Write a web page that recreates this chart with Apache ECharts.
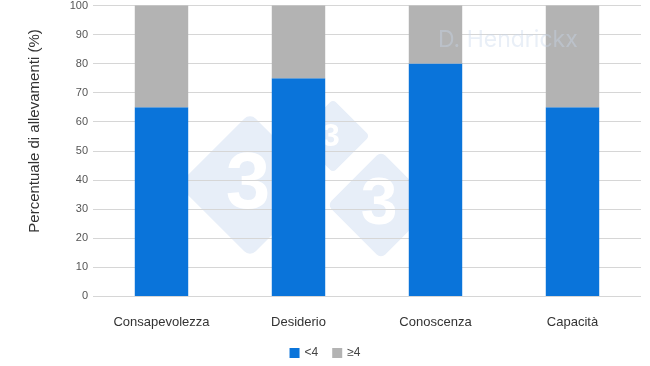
<!DOCTYPE html>
<html><head><meta charset="utf-8">
<script src="https://cdn.jsdelivr.net/npm/echarts@6/dist/echarts.min.js"></script>
<style>html,body{margin:0;padding:0;background:#fff}#c{width:650px;height:366px}</style>
</head><body><div id="c"></div>
<script>
const categories = ['Consapevolezza', 'Desiderio', 'Conoscenza', 'Capacità'];
const below4 = [65, 75, 80, 65];
const atLeast4 = [35, 25, 20, 35];
const yTicks = [0, 10, 20, 30, 40, 50, 60, 70, 80, 90, 100];
const yAxisTitle = 'Percentuale di allevamenti (%)';
const watermark = 'D. Hendrickx';

const FONT = 'Liberation Sans, Arial, sans-serif';
const logoFill = '#e7eef8';
function diamond(cx, cy, side, label, fs) {
  return [
    { type: 'rect', x: cx, y: cy, rotation: Math.PI / 4, z: -10,
      shape: { x: -side / 2, y: -side / 2, width: side, height: side, r: side * 0.08 },
      style: { fill: logoFill } },
    { type: 'text', x: cx - 2, y: cy + 1, z: -9,
      style: { text: label, fill: '#ffffff', font: 'bold ' + fs + 'px ' + FONT,
               textAlign: 'center', textVerticalAlign: 'middle' } }
  ];
}

const chart = echarts.init(document.getElementById('c'));
chart.setOption({
  animation: false,
  textStyle: { fontFamily: FONT },
  grid: { left: 93, right: 9, top: 4, bottom: 70 },
  graphic: [
    ...diamond(250, 185, 102, '3', 80),
    ...diamond(333, 136, 52, '3', 32),
    ...diamond(381, 205, 76, '3', 66),
    { type: 'text', x: 35, y: 131, rotation: Math.PI / 2, z: 5,
      style: { text: yAxisTitle, fill: '#333', font: '15px ' + FONT,
               textAlign: 'center', textVerticalAlign: 'middle' } },
    { type: 'text', x: 438, y: 29, z: 50,
      style: { text: watermark, fill: 'rgba(200,215,235,0.4)', font: '23px Inter, sans-serif' } }
  ],
  legend: {
    bottom: 2, left: 'center', itemWidth: 10, itemHeight: 10, itemGap: 14,
    icon: 'rect', textStyle: { color: '#444', fontSize: 12 },
    data: ['<4', '≥4']
  },
  xAxis: {
    type: 'category', data: categories,
    axisLine: { show: false }, axisTick: { show: false },
    axisLabel: { color: '#333', fontSize: 13, margin: 20 }
  },
  yAxis: {
    type: 'value', min: 0, max: 100, interval: 10,
    axisLabel: { color: '#555', fontSize: 11, margin: 5,
      formatter: v => yTicks.includes(v) ? String(v) : '' },
    splitLine: { lineStyle: { color: '#d6d6d6' } }
  },
  series: [
    { name: '<4', type: 'bar', stack: 'a', data: below4, barWidth: '39%',
      itemStyle: { color: '#0a74da' }, z: 2 },
    { name: '≥4', type: 'bar', stack: 'a', data: atLeast4, barWidth: '39%',
      itemStyle: { color: '#b3b3b3' }, z: 2 }
  ]
});
</script></body></html>
